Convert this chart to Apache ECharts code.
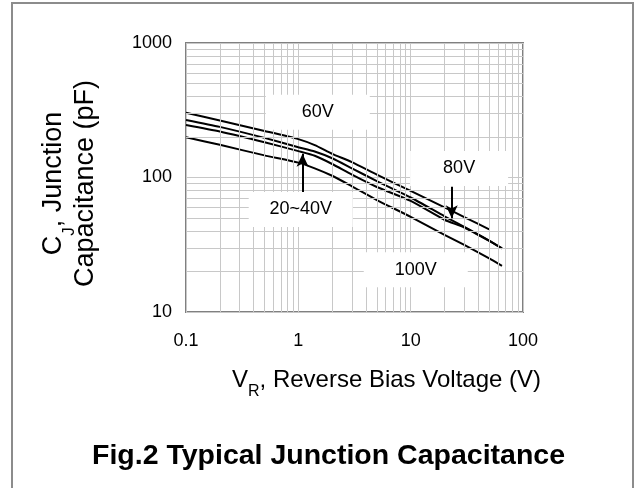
<!DOCTYPE html>
<html>
<head>
<meta charset="utf-8">
<script src="https://cdn.jsdelivr.net/npm/echarts@6/dist/echarts.min.js"></script>
<style>
  html, body { margin: 0; padding: 0; background: #fff; }
  #chart { width: 638px; height: 488px; }
</style>
</head>
<body>
<div id="chart"></div>
<script>
// Reverse voltage (V) sampled along the curves
const vr = [0.1, 0.2, 0.5, 1, 1.4, 2, 3, 5, 10, 20, 30, 50, 65];

// Junction capacitance (pF) for each curve, top to bottom
const capTop = [303, 265, 222, 193, 174, 150, 130, 105, 79.5, 60, 50.8, 41.2, null];
const capSecond = [268, 238, 197, 168, 156, 139, 117, 94, 71, 51.5, 43, 34, 29.7];
const capThird = [246, 220, 183, 157, 145, 126, 105, 85, 67, 48.5, 42.5, 33.8, 29.7];
const capBottom = [199, 175, 146, 129, 117, 103, 86, 68, 51, 37.5, 31.5, 25, 22];

// Axis tick labels and minor grid positions
const xTickLabels = ['0.1', '1', '10', '100'];
const yTickLabels = ['10', '100', '1000'];
const xMinor = [0.2, 0.3, 0.4, 0.5, 0.6, 0.7, 0.8, 0.9, 2, 3, 4, 5, 6, 7, 8, 9, 20, 30, 40, 50, 60, 70, 80, 90];
const yMinor = [20, 30, 40, 50, 60, 70, 80, 90, 200, 300, 400, 500, 600, 700, 800, 900];

// Curve annotations
const labelNames = ['60V', '80V', '20~40V', '100V'];
const labelX = [1.49, 27, 1.05, 11.1];
const labelY = [305, 116.6, 57.8, 20.6];
const arrowX = [1.09, 23.2];
const arrowFromY = [78, 85.4];
const arrowToY = [150, 49.7];

const font = 'Arial, "Liberation Sans", sans-serif';
const gridColor = '#c8c8c8';

const pairs = (ys) => vr.map((v, i) => [v, ys[i]]);

const chartDom = document.getElementById('chart');
const myChart = echarts.init(chartDom);

const curveStyle = { color: '#000', width: 2 };

const option = {
    animation: false,
    textStyle: { fontFamily: font },
    title: {
        text: 'Fig.2 Typical Junction Capacitance',
        left: 87,
        top: 437,
        textStyle: { fontSize: 28.5, fontWeight: 'bold', color: '#000', fontFamily: font }
    },
    graphic: [{
        type: 'rect',
        shape: { x: 12, y: 3, width: 621, height: 500 },
        style: { fill: 'none', stroke: '#8c8c8c', lineWidth: 2 },
        silent: true
    }],
    grid: {
        left: 186,
        right: 115,
        top: 43,
        bottom: 176,
        show: true,
        borderColor: '#808080',
        borderWidth: 2,
        backgroundColor: '#fff'
    },
    xAxis: {
        type: 'log',
        logBase: 10,
        min: 0.1,
        max: 100,
        name: '{n|V}{s|R}{n|, Reverse Bias Voltage (V)}',
        nameLocation: 'middle',
        nameGap: 56,
        nameTextStyle: {
            padding: [0, 0, 0, 64],
            rich: {
                n: { fontSize: 24, color: '#000', fontFamily: font },
                s: { fontSize: 16, color: '#000', fontFamily: font, verticalAlign: 'bottom', padding: [0, 0, -8, 0] }
            }
        },
        axisLine: { show: false },
        axisTick: { show: false },
        axisLabel: {
            margin: 20,
            fontSize: 18,
            color: '#000',
            formatter: (v) => xTickLabels[Math.round(Math.log10(v)) + 1]
        },
        splitLine: { show: true, lineStyle: { color: gridColor, width: 1 } }
    },
    yAxis: {
        type: 'log',
        logBase: 10,
        min: 10,
        max: 1000,
        name: '{n|C}{s|J}{n|, Junction}\n{n|Capacitance (pF)}',
        nameLocation: 'middle',
        nameGap: 84,
        nameTextStyle: {
            lineHeight: 32,
            padding: [0, 12, 0, 0],
            rich: {
                n: { fontSize: 27, lineHeight: 32, color: '#000', fontFamily: font },
                s: { fontSize: 17, lineHeight: 32, color: '#000', fontFamily: font, verticalAlign: 'bottom', padding: [0, 0, -8, 0] }
            }
        },
        axisLine: { show: false },
        axisTick: { show: false },
        axisLabel: {
            margin: 14,
            fontSize: 18,
            color: '#000',
            formatter: (v) => yTickLabels[Math.round(Math.log10(v)) - 1]
        },
        splitLine: { show: true, lineStyle: { color: gridColor, width: 1 } }
    },
    series: [
        {
            // minor grid lines
            name: 'grid',
            type: 'line',
            data: [],
            silent: true,
            markLine: {
                silent: true,
                symbol: ['none', 'none'],
                label: { show: false },
                lineStyle: { color: gridColor, width: 1, type: 'solid' },
                data: xMinor.map(v => ({ xAxis: v })).concat(yMinor.map(v => ({ yAxis: v })))
            }
        },
        {
            name: 'curve1',
            type: 'line',
            data: pairs(capTop),
            showSymbol: false,
            smooth: 0.2,
            lineStyle: curveStyle
        },
        {
            name: 'curve2',
            type: 'line',
            data: pairs(capSecond),
            showSymbol: false,
            smooth: 0.2,
            lineStyle: curveStyle
        },
        {
            name: 'curve3',
            type: 'line',
            data: pairs(capThird),
            showSymbol: false,
            smooth: 0.2,
            lineStyle: curveStyle
        },
        {
            name: 'curve4',
            type: 'line',
            data: pairs(capBottom),
            showSymbol: false,
            smooth: 0.2,
            lineStyle: curveStyle,
            markPoint: {
                silent: true,
                symbol: 'rect',
                itemStyle: { color: '#fff' },
                label: { show: true, position: 'inside', color: '#000', fontSize: 18, fontFamily: font, formatter: '{b}' },
                data: labelNames.map((n, i) => ({
                    name: n,
                    coord: [labelX[i], labelY[i]],
                    symbolSize: [n === '80V' ? 98 : 104, 35]
                }))
            },
            markLine: {
                silent: true,
                symbol: ['none', 'arrow'],
                symbolSize: [9, 13],
                label: { show: false },
                lineStyle: { color: '#000', width: 2, type: 'solid' },
                data: arrowX.map((x, i) => [
                    { coord: [x, arrowFromY[i]] },
                    { coord: [x, arrowToY[i]] }
                ])
            }
        }
    ]
};

myChart.setOption(option);
</script>
</body>
</html>
